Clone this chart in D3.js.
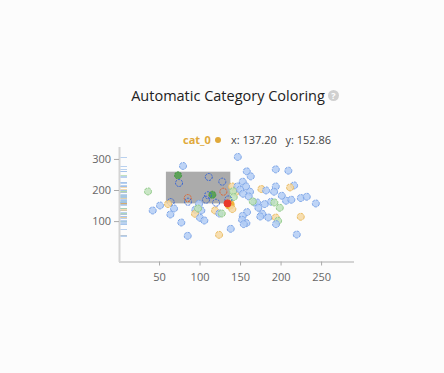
<!DOCTYPE html>
<html>
<head>
<meta charset="utf-8">
<script src="https://cdnjs.cloudflare.com/ajax/libs/d3/7.8.5/d3.min.js"></script>
<style>
body { margin:0; background:#fcfcfc; font-family:"Open Sans", sans-serif; }
svg { display:block; }
</style>
</head>
<body>
<svg id="svg" width="444" height="373"></svg>
<script>
// point values
var xs = [147.2,79.6,73.5,111.4,128.1,74.7,158.3,163.2,194.1,209.6,153.3,140.1,146.7,157.4,194.1,216.7,211.7,176.3,182.1,192,
  36.4,129.4,115.8,110.5,144.2,141.4,150,153.7,162.3,160.7,142.2,201.5,167.7,171,165.7,180.5,188.3,192.3,206.8,213.3,
  225,232.3,243.5,199,85.4,85.8,64.4,61.1,99.4,108,120.4,135.6,140.5,51.2,42.2,68.5,64,94.8,102.2,94.4,
  119.1,124.4,127.4,172.6,158.6,153.3,152.5,157.8,154.6,177.5,184.9,175,194.1,196.9,194.4,224.9,100.6,105.9,77.5,138.5,
  85.4,124.1,220,98.1,134.5];
var ys = [306.5,277.4,247.1,241.9,226.8,222.6,260,243.9,266.5,262.3,226.8,211.6,211.6,211.6,211.6,214.8,208.4,203.2,198.7,194.5,
  195.5,194.5,184.8,183.2,192.3,196.1,201,188,194.5,179.4,177.4,181.6,160,160,163.2,154.8,162.3,160,165.5,168.7,
  174.2,178.4,156.8,142.9,174.2,162.3,161.3,154.8,155.8,168.7,159,169.7,138.7,150.3,134.2,140.6,121.3,136.5,134.2,123.5,
  134.2,124.5,124.5,142.9,129,117.1,104.2,93.5,90.3,123.5,111.6,114.8,111.6,101,90.3,113.9,110.6,101.9,95.5,75.2,
  52.6,55.8,56.8,140.6,157];
var cats = ["b","b","g","b","b","b","b","b","b","b","b","o","b","b","b","b","o","o","b","b",
  "g","o","g","b","o","g","b","b","b","b","g","b","b","b","g","b","b","g","b","b",
  "b","b","b","g","o","b","b","o","b","b","b","b","o","b","b","b","b","b","b","o",
  "o","b","g","b","b","b","b","b","b","b","b","b","o","g","b","o","b","b","b","b",
  "b","o","b","g","r"];
var xTicks = [50,100,150,200,250];
var yTicks = [100,200,300];
var brushX = [58.5,138];
var brushY = [157,259];
var hover = {cat:"cat_0", x:137.20, y:152.86};

var fillC = {b:"#b3cdf4", o:"#f6d8a2", g:"#bfe2bb", r:"#e8392a"};
var strokeC = {b:"#7ea6e8", o:"#eabc62", g:"#92cb8b", r:"#e8392a"};
var selC = {b:"#3262d6", o:"#e0602a", g:"#3f9a3f", r:"#e8392a"};
var rugC = {b:"#9dbfea", o:"#f0cd94", g:"#a9d7a4", r:"#e8a33d"};

var svg = d3.select("#svg");
var x = d3.scaleLinear().domain([0,290]).range([118.5,353.5]);
var y = d3.scaleLinear().domain([-30,340]).range([261.5,146.5]);

svg.append("text").attr("x",228).attr("y",101).attr("text-anchor","middle")
  .style("font-size","14.5px").style("fill","#222").text("Automatic Category Coloring");
svg.append("circle").attr("cx",333.5).attr("cy",95.5).attr("r",5.5).style("fill","#d0d0d0");
svg.append("text").attr("x",333.5).attr("y",99).attr("text-anchor","middle")
  .style("font-size","9px").style("font-weight","bold").style("fill","#fff").text("?");

// tooltip line
svg.append("text").attr("x",183).attr("y",144).style("font-size","11px").style("font-weight","bold")
  .style("fill","#e0a93a").text(hover.cat);
svg.append("circle").attr("cx",218).attr("cy",140).attr("r",3).style("fill","#e0a93a");
svg.append("text").attr("x",231).attr("y",144).style("font-size","11px").style("fill","#444")
  .text("x: " + hover.x.toFixed(2) + "   y: " + hover.y.toFixed(2)).attr("xml:space","preserve");

// axes
var xa = svg.append("g").attr("transform","translate(0,261.5)")
  .call(d3.axisBottom(x).tickValues(xTicks).tickSize(4).tickSizeOuter(0));
var ya = svg.append("g").attr("transform","translate(119,0)")
  .call(d3.axisLeft(y).tickValues(yTicks).tickSize(5).tickSizeOuter(0));
[xa,ya].forEach(function(a){
  a.select(".domain").style("stroke","#d4d4d4").style("stroke-width",2);
  a.selectAll(".tick line").style("stroke","#aaa");
  a.selectAll("text").style("font-family","Open Sans").style("font-size","11px").style("fill","#666");
});
xa.selectAll("text").attr("dy","1.1em");

// rug
svg.append("g").selectAll("line").data(ys).enter().append("line")
  .attr("x1",120.5).attr("x2",127).attr("y1",function(d){return Math.round(y(d))+0.5;})
  .attr("y2",function(d){return Math.round(y(d))+0.5;})
  .style("stroke",function(d,i){return rugC[cats[i]];}).style("stroke-width",1).style("opacity",0.7);

// brush
svg.append("rect").attr("x",x(brushX[0])).attr("y",y(brushY[1]))
  .attr("width",x(brushX[1])-x(brushX[0])).attr("height",y(brushY[0])-y(brushY[1]))
  .style("fill","#ababab");

function inBrush(i){
  return xs[i]>=brushX[0] && xs[i]<=brushX[1] && ys[i]>=brushY[0] && ys[i]<=brushY[1];
}

// hovered point
svg.append("circle").attr("cx",x(hover.x)).attr("cy",y(hover.y)).attr("r",5)
  .style("fill","#f0b43c");

svg.append("g").selectAll("circle").data(xs).enter().append("circle")
  .attr("cx",function(d){return x(d);})
  .attr("cy",function(d,i){return y(ys[i]);})
  .attr("r",3.5)
  .style("fill",function(d,i){return inBrush(i)&&cats[i]!="r" ? (cats[i]=="g"?"#4f9f4a":"none") : fillC[cats[i]];})
  .style("fill-opacity",function(d,i){return cats[i]=="r"?1:0.85;})
  .style("stroke",function(d,i){return inBrush(i)?selC[cats[i]]:strokeC[cats[i]];})
  .style("stroke-width",1)
  .style("stroke-dasharray",function(d,i){return cats[i]=="r"?null:(inBrush(i)?"2,1":"3,1");});
</script>
</body>
</html>
